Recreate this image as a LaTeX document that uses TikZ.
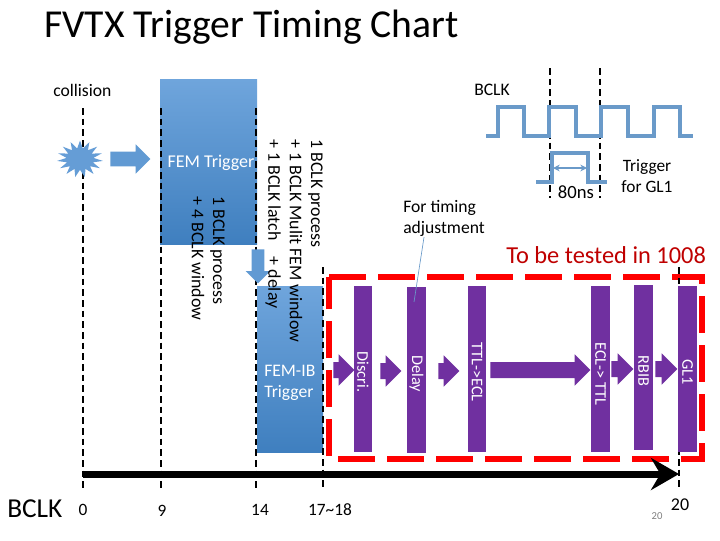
\documentclass[tikz,border=0pt]{standalone}
\usepackage{fontspec}
\setmainfont{Carlito}
\usetikzlibrary{shapes.geometric,shapes.arrows,arrows.meta}
\definecolor{blueT}{HTML}{6FA5DC}
\definecolor{blueB}{HTML}{3F7FBF}
\definecolor{wave}{HTML}{6A9AC9}
\definecolor{purp}{HTML}{7030A0}
\tikzset{
  txt/.style={inner sep=0pt,font=\fontsize{#1}{#1}\selectfont},
  txt/.default=13,
  blk/.style={shape=rectangle,inner sep=0pt,top color=blueT,bottom color=blueB,draw=none},
  bar/.style={shape=rectangle,inner sep=0pt,fill=purp,draw=none},
  barlab/.style={inner sep=0pt,text=white,rotate=-90,font=\fontsize{12.2}{12.2}\selectfont},
  vert/.style={inner sep=0pt,rotate=-90,anchor=north west,align=left,font=\fontsize{13.4}{16}\selectfont},
  tick/.style={black,line width=1.6pt,dash pattern=on 5pt off 3pt},
  parrow/.style={single arrow,fill=purp,draw=none,inner xsep=0pt,inner ysep=5.8pt,
    single arrow head extend=5.8pt,minimum width=23.2pt,single arrow tip angle=90,anchor=tail},
  barrow/.style={single arrow,fill=blueT!70!blueB,draw=none,inner xsep=0pt,inner ysep=5.4pt,
    single arrow head extend=5.4pt,minimum width=21.6pt,single arrow tip angle=90,anchor=tail},
  wavel/.style={wave,line width=2.4pt},
}
\begin{document}
\begin{tikzpicture}[x=.75pt,y=-.75pt]
\useasboundingbox (0,0) rectangle (720,540);
% blue blocks
\node[blk,minimum width=72.75pt,minimum height=123.75pt] (fem) at (208.5,161.5) {};
\node[blk,minimum width=49.5pt,minimum height=124.5pt] (femib) at (290,369) {};
% red box
\coordinate (rtl) at (329,277);
\coordinate (rtr) at (702,277);
\coordinate (rbr) at (702,459);
\coordinate (rbl) at (329,459);
\draw[red,line width=4.5pt,dash pattern=on 27.75pt off 9pt] (rtl) -- (rtr) -- (rbr) -- (rbl) -- cycle;
% dashed time lines
\coordinate (t0a) at (83,108); \coordinate (t0b) at (83,490);
\coordinate (t1a) at (161,108); \coordinate (t1b) at (161,490);
\coordinate (t2a) at (256,108); \coordinate (t2b) at (256,490);
\coordinate (t3a) at (323,267); \coordinate (t3b) at (323,488);
\coordinate (t4a) at (679,267); \coordinate (t4b) at (679,488);
\coordinate (c1a) at (550,68); \coordinate (c1b) at (550,198);
\coordinate (c2a) at (600,68); \coordinate (c2b) at (600,198);
\draw[tick] (t0a) -- (t0b);
\draw[tick] (t1a) -- (t1b);
\draw[tick] (t2a) -- (t2b);
\draw[tick] (t3a) -- (t3b);
\draw[tick] (t4a) -- (t4b);
\draw[tick] (c1a) -- (c1b);
\draw[tick] (c2a) -- (c2b);
% purple bars
\node[bar,minimum width=13.5pt,minimum height=124.5pt] (discri) at (363,369) {};
\node[bar,minimum width=14.25pt,minimum height=124.5pt] (delay) at (416.5,370) {};
\node[bar,minimum width=13.5pt,minimum height=124.5pt] (ttl) at (477,369) {};
\node[bar,minimum width=14.25pt,minimum height=124.5pt] (ecl) at (600.5,369) {};
\node[bar,minimum width=14.25pt,minimum height=123.75pt] (rbib) at (643.5,367.5) {};
\node[bar,minimum width=14.25pt,minimum height=124.5pt] (gl) at (687.5,369) {};
\node[barlab] (ldiscri) at (363,372) {Discri.};
\node[barlab] (ldelay) at (416.5,374) {Delay};
\node[barlab] (lttl) at (477,372) {TTL->ECL};
\node[barlab] (lecl) at (600.5,374) {ECL-> TTL};
\node[barlab] (lrbib) at (643.5,371) {RBIB};
\node[barlab] (lgl) at (687.5,372) {GL1};
% purple arrows
\node[parrow,minimum height=15.75pt] (a1) at (333,370) {};
\node[parrow,minimum height=15.75pt] (a2) at (380,371) {};
\node[parrow,minimum height=15.75pt] (a3) at (438,371) {};
\node[parrow,minimum height=75pt] (a4) at (490,370) {};
\node[parrow,minimum height=16.5pt] (a5) at (611,369) {};
\node[parrow,minimum height=16.5pt] (a6) at (655,369) {};
% blue arrows and burst
\node[star,star points=15,star point ratio=1.7,fill=blueT!80!blueB,draw=none,inner sep=0pt,
  minimum size=30pt,xscale=1.15,yscale=.92] (burst) at (80,159) {};
\node[barrow,minimum height=30pt] (ca) at (110,159) {};
\node[barrow,minimum height=25.5pt,rotate=-90,minimum width=18pt,inner ysep=4.5pt,single arrow head extend=4.5pt] (da) at (258,249) {};
% waveforms
\coordinate (w0) at (486,136); \coordinate (w9) at (693,136);
\draw[wavel] (w0) -- (498,136) -- (498,107) -- (524,107) -- (524,136) -- (549,136) -- (549,107)
  -- (576,107) -- (576,136) -- (601,136) -- (601,107) -- (628,107) -- (628,136) -- (654,136)
  -- (654,107) -- (680,107) -- (680,136) -- (w9);
\coordinate (p0) at (536,182); \coordinate (p9) at (607,182);
\draw[wavel] (p0) -- (552,182) -- (552,153) -- (588,153) -- (588,182) -- (p9);
\coordinate (d0) at (553,168); \coordinate (d1) at (587,168);
\draw[wave,line width=1.3pt,{Stealth[length=5pt,width=5pt]}-{Stealth[length=5pt,width=5pt]}] (d0) -- (d1);
% timeline
\coordinate (b0) at (83,474); \coordinate (b1) at (679,474);
\draw[black,line width=5.25pt,-{Stealth[length=21pt,width=24pt,inset=7pt]}] (b0) -- (b1);
% texts
\node[txt=29.7,anchor=west] (title) at (44,27) {FVTX Trigger Timing Chart};
\node[txt=13.2,anchor=west] (coll) at (53,90) {collision};
\node[txt=13.2,anchor=west] (bclk) at (474,90) {BCLK};
\node[txt=13.5,text=white] (femt) at (211,163) {FEM Trigger};
\node[inner sep=0pt,text=white,anchor=north west,align=left,font=\fontsize{13.2}{16}\selectfont] (ibt) at (264,365) {FEM-IB\\Trigger};
\node[vert] (v1) at (323,139) {1 BCLK process\\+ 1 BCLK Mulit FEM window\\+ 1 BCLK latch \ \ \ + delay};
\node[vert] (v2) at (225,196) {1 BCLK process\\+ 4 BCLK window};
\node[inner sep=0pt,align=center,font=\fontsize{13}{16}\selectfont] (trig) at (647,176) {Trigger\\for GL1};
\node[txt=14] (ns) at (576,192) {80ns};
\node[inner sep=0pt,anchor=north west,align=left,font=\fontsize{13.2}{16}\selectfont] (fort) at (403,200) {For timing\\adjustment};
\coordinate (lead) at (414,302);
\draw[wave,line width=.5pt] (fort.south) ++(-20,0) -- (lead);
\node[txt=18.3,text=red!75!black,anchor=west] (tested) at (506,255) {To be tested in 1008};
\node[txt=20.5,anchor=west] (bc) at (7,509) {BCLK};
\node[txt=13] (n0) at (83,510) {0};
\node[txt=13] (n9) at (162,511) {9};
\node[txt=13] (n14) at (260,510) {14};
\node[txt=13] (n17) at (330,510) {17\textasciitilde18};
\node[txt=13.5] (n20) at (680,505) {20};
\node[txt=8,text=gray] (n20s) at (657,516) {20};
\end{tikzpicture}
\end{document}
